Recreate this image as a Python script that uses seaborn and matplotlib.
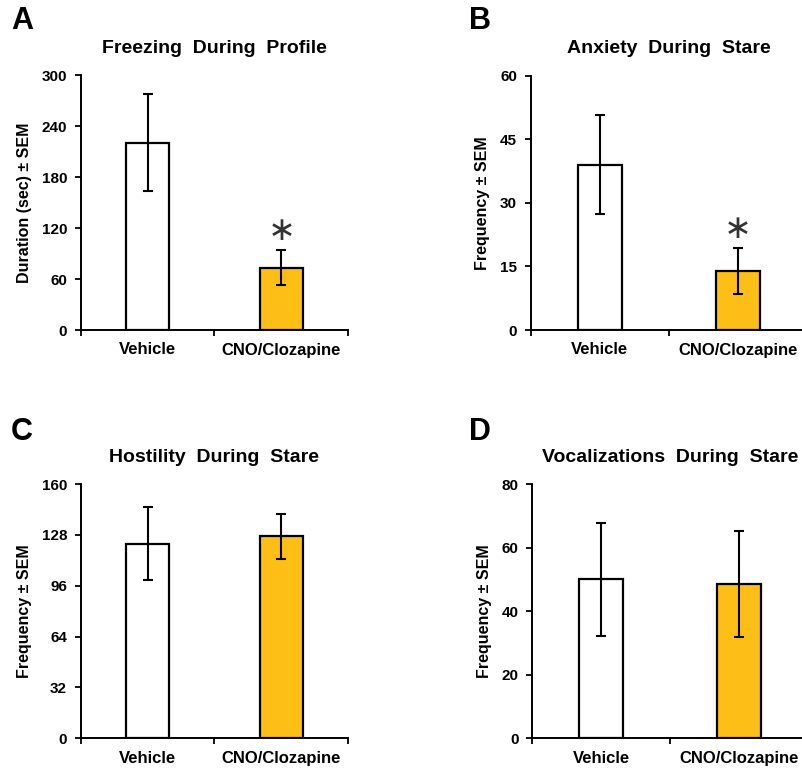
import matplotlib
matplotlib.use("Agg")
import matplotlib.pyplot as plt
import seaborn as sns
import pandas as pd

groups = ["Vehicle", "CNO/Clozapine"]

freeze_mean = [221, 73.5]
freeze_sem = [57, 20.5]
anxiety_mean = [39, 14]
anxiety_sem = [11.7, 5.4]
hostility_mean = [122.5, 127]
hostility_sem = [23, 14]
vocal_mean = [50, 48.5]
vocal_sem = [17.7, 16.7]

titles = ["Freezing  During  Profile", "Anxiety  During  Stare",
          "Hostility  During  Stare", "Vocalizations  During  Stare"]
ylabels = ["Duration (sec) \u00b1 SEM", "Frequency \u00b1 SEM",
           "Frequency \u00b1 SEM", "Frequency \u00b1 SEM"]
yticks_list = [[0, 60, 120, 180, 240, 300], [0, 15, 30, 45, 60],
               [0, 32, 64, 96, 128, 160], [0, 20, 40, 60, 80]]
panel_letters = ["A", "B", "C", "D"]
significant = [True, True, False, False]

sns.set_theme(style="white")
plt.rcParams['font.family'] = ['Liberation Sans', 'DejaVu Sans']
plt.rcParams['font.weight'] = 'bold'
for k in ['text.color', 'axes.labelcolor', 'xtick.color', 'ytick.color', 'axes.edgecolor']:
    plt.rcParams[k] = 'black'

fig = plt.figure(figsize=(8.03, 7.68), dpi=100)
W, H = 803, 768

def rect(x0, x1, ytop, ybot):
    return [x0 / W, 1 - ybot / H, (x1 - x0) / W, (ybot - ytop) / H]

rects = [rect(81, 348, 75.5, 330), rect(531, 806.5, 75.5, 330),
         rect(81, 348, 484, 738.3), rect(532.3, 807.5, 484, 738.3)]
letter_pos = [(11, 6), (469, 6), (11, 417), (469, 417)]

means_all = [freeze_mean, anxiety_mean, hostility_mean, vocal_mean]
sems_all = [freeze_sem, anxiety_sem, hostility_sem, vocal_sem]
palette = {"Vehicle": "white", "CNO/Clozapine": "#FDBF16"}

for i in range(4):
    ax = fig.add_axes(rects[i])
    df = pd.DataFrame({"group": groups, "value": means_all[i]})
    sns.barplot(data=df, x="group", y="value", hue="group", palette=palette,
                saturation=1, width=0.32, edgecolor="black", linewidth=1.6,
                errorbar=None, legend=False, ax=ax)
    ax.errorbar([0, 1], means_all[i], yerr=sems_all[i], fmt="none",
                ecolor="black", elinewidth=1.5, capsize=3.5, capthick=1.5)
    yt = yticks_list[i]
    ax.set_ylim(yt[0], yt[-1])
    ax.set_xlim(-0.5, 1.5)
    ax.set_yticks(yt)
    ax.set_yticklabels([str(v) for v in yt], fontsize=11, fontweight="bold")
    ax.set_xticks([0, 1])
    ax.set_xticklabels(groups, fontsize=12, fontweight="bold")
    ax.set_xticks([-0.5, 0.5, 1.5], minor=True)
    ax.tick_params(axis="x", which="major", length=0, pad=9)
    ax.tick_params(axis="x", which="minor", length=4.5, width=1.3, direction="out",
                   color="black", bottom=True)
    ax.tick_params(axis="y", which="major", length=4, width=1.3, direction="out",
                   color="black", pad=6, left=True)
    for s in ["top", "right"]:
        ax.spines[s].set_visible(False)
    for s in ["left", "bottom"]:
        ax.spines[s].set_color("black")
        ax.spines[s].set_linewidth(1.4)
    ax.set_xlabel("")
    ax.set_ylabel(ylabels[i], fontsize=11.5, fontweight="bold", labelpad=7)
    ax.set_title(titles[i], fontsize=14, fontweight="bold", pad=16)
    if significant[i]:
        ax.annotate("\u2217", xy=(1, means_all[i][1] + sems_all[i][1]),
                    xytext=(0, 14), textcoords="offset points", ha="center",
                    va="center", fontsize=24, color="#333333",
                    family="DejaVu Sans", fontweight="normal")
    lx, ly = letter_pos[i]
    fig.text(lx / W, 1 - ly / H, panel_letters[i], fontsize=22,
             fontweight="bold", ha="left", va="top", color="black")

fig.savefig("out.png", dpi=100)
